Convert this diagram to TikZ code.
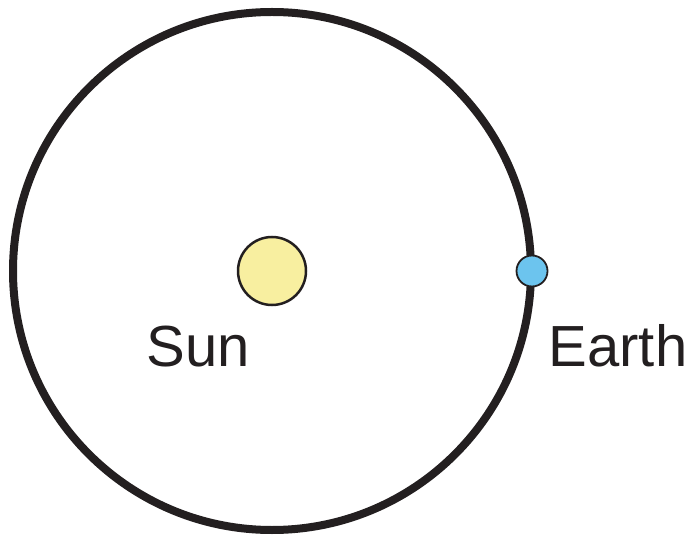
\documentclass[tikz,border=0pt]{standalone}
\usepackage{fontspec}
\setmainfont{Liberation Sans}
\usetikzlibrary{positioning}
\definecolor{inkblack}{HTML}{231F20}
\definecolor{sunyellow}{HTML}{F8EFA0}
\definecolor{earthblue}{HTML}{6CC4EE}
\begin{document}
\begin{tikzpicture}[x=1pt, y=1pt,
    orbit/.style={draw=inkblack, line width=8pt},
    body/.style={circle, draw=inkblack, inner sep=0pt},
    bodylabel/.style={anchor=base, text=inkblack, font=\fontsize{58}{58}\selectfont, inner sep=0pt}]
                \useasboundingbox (0,0) rectangle (696,536);
                \coordinate (O) at (272,265);
                \draw[orbit] (O) circle (259);
                \node[body, fill=sunyellow, line width=2.5pt, minimum size=68pt] (sun) at (O) {};
                \node[body, fill=earthblue, line width=1.8pt, minimum size=31pt] (earth) at (532,265) {};
                \node[bodylabel] (sunlabel) at (198,169) {Sun};
                \node[bodylabel] (earthlabel) at (618,169) {Earth};
            \end{tikzpicture}
\end{document}
